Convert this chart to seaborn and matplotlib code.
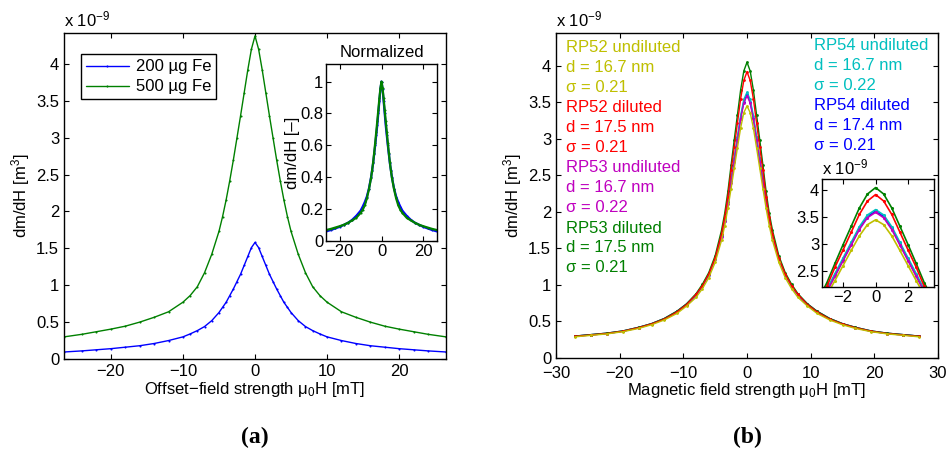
import matplotlib
matplotlib.use("Agg")
import matplotlib.pyplot as plt
from matplotlib.ticker import FuncFormatter
import numpy as np
import pandas as pd
import seaborn as sns

# ---------------- data (values in units of 1e-9 m^3) ----------------
# Panel (a): offset-field strength [mT]
xa = [-26.5, -24, -22, -20, -18, -16, -14, -12, -10, -9, -8, -7, -6, -5, -4.5, -4,
      -3.5, -3, -2.5, -2, -1.5, -1, -0.5, 0, 0.5, 1, 1.5, 2, 2.5, 3, 3.5, 4, 4.5, 5,
      6, 7, 8, 9, 10, 12, 14, 16, 18, 20, 22, 24, 26.5]
fe200 = [0.095, 0.11, 0.125, 0.14, 0.16, 0.18, 0.21, 0.25, 0.30, 0.34, 0.385, 0.44,
         0.52, 0.63, 0.70, 0.77, 0.86, 0.95, 1.05, 1.15, 1.27, 1.39, 1.51, 1.58,
         1.51, 1.39, 1.27, 1.15, 1.05, 0.95, 0.86, 0.77, 0.70, 0.63, 0.52, 0.44,
         0.385, 0.34, 0.30, 0.25, 0.21, 0.18, 0.16, 0.14, 0.125, 0.11, 0.095]
fe500 = [0.30, 0.335, 0.37, 0.405, 0.445, 0.50, 0.565, 0.64, 0.77, 0.86, 0.98, 1.17,
         1.42, 1.73, 1.93, 2.16, 2.42, 2.70, 3.00, 3.30, 3.61, 3.92, 4.20, 4.38,
         4.20, 3.92, 3.61, 3.30, 3.00, 2.70, 2.42, 2.16, 1.93, 1.73, 1.42, 1.17,
         0.98, 0.86, 0.77, 0.64, 0.565, 0.50, 0.445, 0.405, 0.37, 0.335, 0.30]
labels_a = ["200 µg Fe", "500 µg Fe"]

# Panel (b): magnetic field strength [mT]
xb = [-27, -24.5, -22, -19.5, -17, -15, -13, -11, -9.5, -8, -7, -6, -5, -4, -3.5,
      -3, -2.5, -2, -1.5, -1, -0.5, 0, 0.5, 1, 1.5, 2, 2.5, 3, 3.5, 4, 5, 6, 7, 8,
      9.5, 11, 13, 15, 17, 19.5, 22, 24.5, 27]
rp52_und = [0.29, 0.31, 0.33, 0.36, 0.405, 0.455, 0.52, 0.61, 0.71, 0.83, 0.95, 1.10,
            1.31, 1.61, 1.81, 2.05, 2.32, 2.60, 2.88, 3.15, 3.36, 3.45, 3.36, 3.15,
            2.88, 2.60, 2.32, 2.05, 1.81, 1.61, 1.31, 1.10, 0.95, 0.83, 0.71, 0.61,
            0.52, 0.455, 0.405, 0.36, 0.33, 0.31, 0.29]
rp52_dil = [0.295, 0.315, 0.335, 0.365, 0.415, 0.465, 0.53, 0.63, 0.73, 0.87, 0.99,
            1.15, 1.37, 1.70, 1.93, 2.21, 2.57, 2.89, 3.22, 3.55, 3.80, 3.92, 3.80,
            3.55, 3.22, 2.89, 2.57, 2.21, 1.93, 1.70, 1.37, 1.15, 0.99, 0.87, 0.73,
            0.63, 0.53, 0.465, 0.415, 0.365, 0.335, 0.315, 0.295]
rp53_und = [0.30, 0.32, 0.34, 0.37, 0.42, 0.47, 0.54, 0.64, 0.74, 0.87, 0.99, 1.15,
            1.36, 1.66, 1.87, 2.11, 2.40, 2.69, 2.98, 3.27, 3.49, 3.59, 3.49, 3.27,
            2.98, 2.69, 2.40, 2.11, 1.87, 1.66, 1.36, 1.15, 0.99, 0.87, 0.74, 0.64,
            0.54, 0.47, 0.42, 0.37, 0.34, 0.32, 0.30]
rp53_dil = [0.30, 0.32, 0.34, 0.37, 0.42, 0.47, 0.54, 0.64, 0.74, 0.88, 1.01, 1.17,
            1.40, 1.75, 1.98, 2.28, 2.64, 2.99, 3.33, 3.67, 3.93, 4.05, 3.93, 3.67,
            3.33, 2.99, 2.64, 2.28, 1.98, 1.75, 1.40, 1.17, 1.01, 0.88, 0.74, 0.64,
            0.54, 0.47, 0.42, 0.37, 0.34, 0.32, 0.30]
rp54_und = [0.30, 0.32, 0.34, 0.37, 0.42, 0.47, 0.54, 0.64, 0.74, 0.87, 0.99, 1.15,
            1.37, 1.69, 1.90, 2.15, 2.45, 2.74, 3.03, 3.32, 3.54, 3.64, 3.54, 3.32,
            3.03, 2.74, 2.45, 2.15, 1.90, 1.69, 1.37, 1.15, 0.99, 0.87, 0.74, 0.64,
            0.54, 0.47, 0.42, 0.37, 0.34, 0.32, 0.30]
rp54_dil = [0.30, 0.315, 0.335, 0.365, 0.415, 0.465, 0.535, 0.63, 0.73, 0.86, 0.98,
            1.14, 1.36, 1.67, 1.88, 2.13, 2.42, 2.71, 3.00, 3.29, 3.51, 3.61, 3.51,
            3.29, 3.00, 2.71, 2.42, 2.13, 1.88, 1.67, 1.36, 1.14, 0.98, 0.86, 0.73,
            0.63, 0.535, 0.465, 0.415, 0.365, 0.335, 0.315, 0.30]
series_b = ["RP52 undiluted", "RP52 diluted", "RP53 undiluted", "RP53 diluted",
            "RP54 undiluted", "RP54 diluted"]
diam_b = ["16.7", "17.5", "16.7", "17.5", "16.7", "17.4"]
sigma_b = ["0.21", "0.21", "0.22", "0.21", "0.22", "0.21"]

# ---------------- style ----------------
FS = 12
sns.set_theme(style="ticks")
plt.rcParams["font.family"] = ["Liberation Sans", "DejaVu Sans"]
plt.rcParams.update({
    "xtick.direction": "in", "ytick.direction": "in",
    "xtick.top": True, "ytick.right": True,
    "xtick.major.size": 3.5, "ytick.major.size": 3.5,
    "xtick.major.width": 0.8, "ytick.major.width": 0.8,
    "axes.linewidth": 1.0, "axes.edgecolor": "black",
    "xtick.color": "black", "ytick.color": "black",
    "font.size": FS, "xtick.labelsize": FS, "ytick.labelsize": FS,
    "axes.labelsize": FS, "axes.labelcolor": "black", "text.color": "black",
    "mathtext.fontset": "custom", "mathtext.rm": "Liberation Sans",
    "mathtext.it": "Liberation Sans:italic", "mathtext.bf": "Liberation Sans:bold",
})

fmt = FuncFormatter(lambda v, p: f"{v:g}".replace("-", "\u2212"))

W, H = 948, 450
fig = plt.figure(figsize=(W / 100, H / 100), dpi=100)


def px_axes(l, t, r, b):
    return fig.add_axes([l / W, 1 - b / H, (r - l) / W, (b - t) / H])


C_BLUE = (0, 0, 1)
C_GREEN = (0, 0.5, 0)
C_RED = (1, 0, 0)
C_CYAN = (0, 0.75, 0.75)
C_MAG = (0.75, 0, 0.75)
C_YEL = (0.75, 0.75, 0)

# ---------------- panel (a) ----------------
axa = px_axes(64, 33, 446, 359)
dfa = pd.DataFrame({"x": xa * 2, "y": fe200 + fe500,
                    "s": [labels_a[0]] * len(xa) + [labels_a[1]] * len(xa)})
sns.lineplot(data=dfa, x="x", y="y", hue="s", palette=[C_BLUE, C_GREEN],
             marker=".", markersize=3, markeredgewidth=0, linewidth=1.0,
             estimator=None, sort=False, ax=axa)
axa.set_xlim(-26.5, 26.5)
axa.set_ylim(0, 4.42)
axa.set_xticks([-20, -10, 0, 10, 20])
axa.set_yticks(np.arange(0, 4.01, 0.5))
axa.xaxis.set_major_formatter(fmt)
axa.yaxis.set_major_formatter(fmt)
axa.set_xlabel("Offset\u2212field strength \u03bc$_0$H [mT]", labelpad=1)
axa.set_ylabel("dm/dH [m$^3$]", labelpad=3)
axa.text(0.0, 1.012, "x 10$^{-9}$", transform=axa.transAxes, ha="left", va="bottom",
         fontsize=FS)
leg = axa.legend(loc="upper left", bbox_to_anchor=(0.022, 0.96), frameon=True,
                 fancybox=False, edgecolor="black", framealpha=1,
                 handlelength=2.6, borderpad=0.3, labelspacing=0.3,
                 handletextpad=0.4, fontsize=FS)
leg.get_frame().set_linewidth(1.0)

# inset (a)
ina = px_axes(326, 64, 437, 241)
dfn = pd.DataFrame({"x": xa * 2,
                    "y": [v / max(fe200) for v in fe200] + [v / max(fe500) for v in fe500],
                    "s": [labels_a[0]] * len(xa) + [labels_a[1]] * len(xa)})
sns.lineplot(data=dfn, x="x", y="y", hue="s", palette=[C_BLUE, C_GREEN],
             marker=".", markersize=3, markeredgewidth=0, linewidth=1.6,
             estimator=None, sort=False, ax=ina, legend=False)
ina.set_xlim(-26.5, 26.5)
ina.set_ylim(0, 1.11)
ina.set_xticks([-20, 0, 20])
ina.set_yticks([0, 0.2, 0.4, 0.6, 0.8, 1])
ina.xaxis.set_major_formatter(fmt)
ina.yaxis.set_major_formatter(fmt)
ina.set_xlabel("")
ina.set_ylabel("dm/dH [\u2013]", labelpad=0)
ina.set_title("Normalized", fontsize=FS, pad=5)
ina.tick_params(pad=2)

# ---------------- panel (b) ----------------
axb = px_axes(556, 33, 938, 358)
ys_b = [rp52_und, rp52_dil, rp53_und, rp53_dil, rp54_und, rp54_dil]
cols_b = [C_YEL, C_RED, C_MAG, C_GREEN, C_CYAN, C_BLUE]
draw_order = [5, 4, 2, 3, 1, 0]
for i in draw_order:
    sns.lineplot(x=xb, y=ys_b[i], color=cols_b[i], marker=".", markersize=4,
                 markeredgewidth=0, linewidth=1.0, estimator=None, sort=False,
                 ax=axb)
axb.set_xlim(-30, 30)
axb.set_ylim(0, 4.45)
axb.set_xticks([-30, -20, -10, 0, 10, 20, 30])
axb.set_yticks(np.arange(0, 4.01, 0.5))
axb.xaxis.set_major_formatter(fmt)
axb.yaxis.set_major_formatter(fmt)
axb.tick_params(axis="x", pad=6)
axb.set_xlabel("Magnetic field strength \u03bc$_0$H [mT]", labelpad=0)
axb.set_ylabel("dm/dH [m$^3$]", labelpad=3)
axb.text(0.0, 1.012, "x 10$^{-9}$", transform=axb.transAxes, ha="left", va="bottom",
         fontsize=FS)

# annotations
left_rows = [48, 108, 168, 228]
right_rows = [46, 106]
for k, i in enumerate([0, 1, 2, 3]):
    y0 = left_rows[k]
    for j, s in enumerate([series_b[i], f"d = {diam_b[i]} nm", f"\u03c3 = {sigma_b[i]}"]):
        fig.text(566 / W, 1 - (y0 + 20 * j) / H, s, color=cols_b[i], fontsize=FS,
                 ha="left", va="center")
for k, i in enumerate([4, 5]):
    y0 = right_rows[k]
    for j, s in enumerate([series_b[i], f"d = {diam_b[i]} nm", f"\u03c3 = {sigma_b[i]}"]):
        fig.text(814 / W, 1 - (y0 + 20 * j) / H, s, color=cols_b[i], fontsize=FS,
                 ha="left", va="center")

# inset (b)
inb = px_axes(822, 179, 934, 287)
for i in draw_order:
    sns.lineplot(x=xb, y=ys_b[i], color=cols_b[i], marker=".", markersize=4.5,
                 markeredgewidth=0, linewidth=1.2, estimator=None, sort=False,
                 ax=inb)
inb.set_xlim(-3.3, 3.6)
inb.set_ylim(2.2, 4.21)
inb.set_xticks([-2, 0, 2])
inb.set_yticks([2.5, 3, 3.5, 4])
inb.xaxis.set_major_formatter(fmt)
inb.yaxis.set_major_formatter(fmt)
inb.set_xlabel("")
inb.set_ylabel("")
inb.tick_params(pad=2)
inb.text(0.0, 1.015, "x 10$^{-9}$", transform=inb.transAxes, ha="left", va="bottom",
         fontsize=FS)

# captions
for cx, lab in ((255, "(a)"), (747, "(b)")):
    fig.text(cx / W, 1 - 437 / H, lab, ha="center", va="center", fontsize=17,
             fontweight="bold", family=["Liberation Serif", "DejaVu Serif"])

fig.savefig("out.png", dpi=100)
